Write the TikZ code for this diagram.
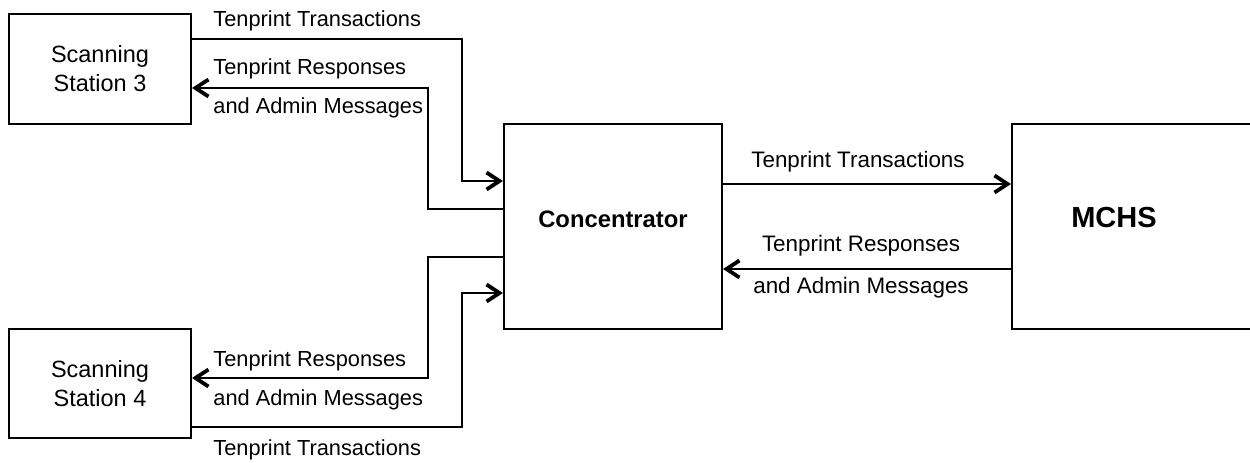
\documentclass[tikz,border=0pt]{standalone}
\usepackage{fontspec}
\setmainfont{Liberation Sans}
\usetikzlibrary{arrows.meta}

\tikzset{
	box/.style={draw, line width=1pt, inner sep=0pt},
	station/.style={box, minimum width=91pt, minimum height=55pt, align=center,
		font=\fontsize{11.75}{14.5}\selectfont},
	flow/.style={line width=1pt, -{Straight Barb[length=6.5pt,width=8.5pt,line width=1.9pt]}},
	msg/.style={inner sep=0pt, font=\fontsize{10.9}{13}\selectfont},
	midmsg/.style={inner sep=0pt, anchor=base, font=\fontsize{11.2}{13}\selectfont},
}

\begin{document}
\begin{tikzpicture}[x=0.5pt,y=-0.5pt]
		\useasboundingbox (0,0) rectangle (1250,462);
		
		% boxes
		\node [station] (st3) at (100,69) {Scanning\\Station 3};
		\node [station, minimum height=54.5pt] (st4) at (100,383.5) {Scanning\\Station 4};
		\node [box, minimum width=109pt, minimum height=102.5pt] (conc) at (613,226.5) {};
		\node [box, minimum width=125pt, minimum height=102.5pt] (mchs) at (1137,226.5) {};
		\node [anchor=base, inner sep=0pt, font=\bfseries\fontsize{11.9}{14}\selectfont] (conclabel) at (613,227) {Concentrator};
		\node [anchor=base, inner sep=0pt, font=\bfseries\fontsize{14.5}{17}\selectfont] (mchslabel) at (1114,227) {MCHS};
		
		% bend columns
		\coordinate (tx) at (462,0);
		\coordinate (rx) at (428,0);
		
		% station 3
		\draw [flow] (st3.east |- 0,39) -| (tx |- 0,181) -- (conc.west |- 0,181);
		\draw [flow] (conc.west |- 0,209) -| (rx |- 0,88) -- (st3.east |- 0,88);
		\node [msg, anchor=base west] (tx3) at (213,26) {Tenprint Transactions};
		\node [msg, anchor=base west] (rs3) at (213,74) {Tenprint Responses};
		\node [msg, anchor=base west] (am3) at (213,113) {and Admin Messages};
		
		% station 4
		\draw [flow] (conc.west |- 0,257) -| (rx |- 0,378) -- (st4.east |- 0,378);
		\draw [flow] (st4.east |- 0,427) -| (tx |- 0,293) -- (conc.west |- 0,293);
		\node [msg, anchor=base west] (rs4) at (213,366) {Tenprint Responses};
		\node [msg, anchor=base west] (am4) at (213,405) {and Admin Messages};
		\node [msg, anchor=base west] (tx4) at (213,455) {Tenprint Transactions};
		
		% concentrator <-> MCHS
		\draw [flow] (conc.east |- 0,184) -- (mchs.west |- 0,184);
		\draw [flow] (mchs.west |- 0,269) -- (conc.east |- 0,269);
		\node [midmsg] (txm) at (858,167) {Tenprint Transactions};
		\node [midmsg] (rsm) at (861,251) {Tenprint Responses};
		\node [midmsg] (amm) at (861,293) {and Admin Messages};
\end{tikzpicture}
\end{document}
